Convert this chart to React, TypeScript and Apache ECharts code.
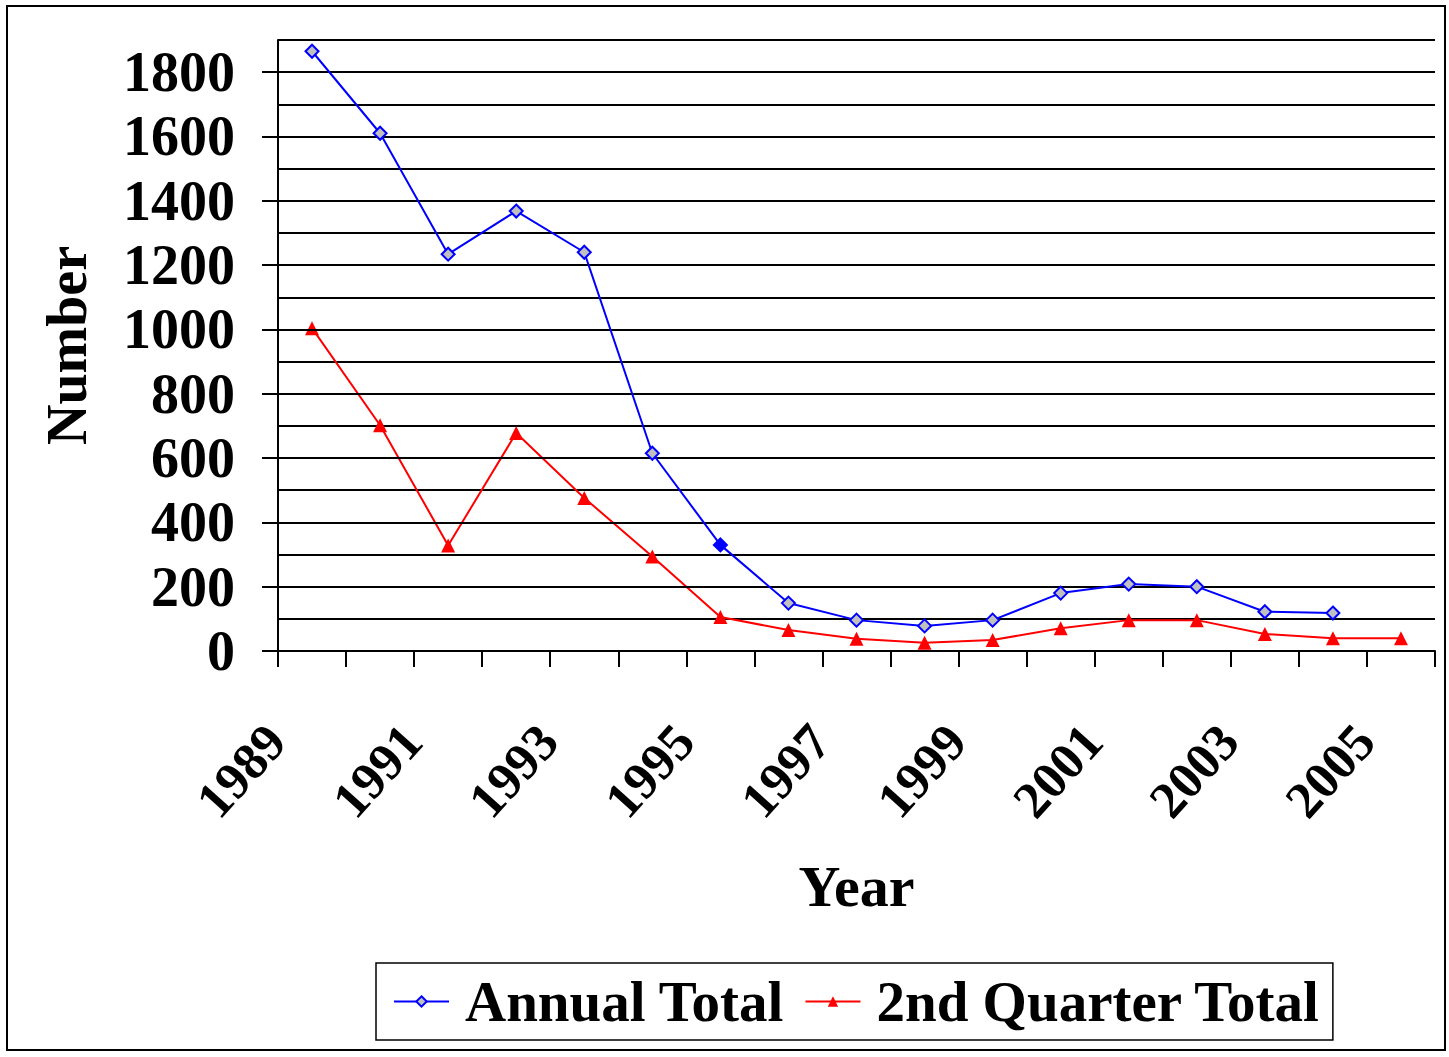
import React, { useEffect, useRef } from "react";
import * as echarts from "echarts";

const years = ["1989", "1990", "1991", "1992", "1993", "1994", "1995", "1996", "1997", "1998", "1999", "2000", "2001", "2002", "2003", "2004", "2005"];
const annualTotal = [1865, 1610, 1234, 1368, 1240, 615, 330, 149, 96, 78, 96, 180, 208, 200, 122, 118, null];
const secondQuarterTotal = [1004, 702, 328, 678, 476, 294, 106, 65, 38, 26, 34, 71, 96, 96, 53, 40, 40];
const yTickValues = [0, 200, 400, 600, 800, 1000, 1200, 1400, 1600, 1800];
const highlightedAnnualIndex = 6;

const FONT = "'Liberation Serif', 'Times New Roman', serif";

export default function App() {
  const ref = useRef<HTMLDivElement>(null);
  useEffect(() => {
    if (!ref.current) return;
    const chart = echarts.init(ref.current, null, { renderer: "svg" });
    const txt = { fontFamily: FONT, fontWeight: "bold" as const, color: "#000" };
    chart.setOption({
      animation: false,
      backgroundColor: "#fff",
      textStyle: txt,
      grid: { left: 278, right: 14, top: 40, bottom: 406, containLabel: false },
      xAxis: {
        type: "category",
        data: years,
        boundaryGap: true,
        name: "Year",
        nameLocation: "middle",
        nameGap: 206,
        nameTextStyle: { ...txt, fontSize: 58 },
        axisLine: { show: true, lineStyle: { color: "#000", width: 2 } },
        axisTick: { show: true, interval: 0, length: 16, lineStyle: { color: "#000", width: 2 } },
        axisLabel: { ...txt, interval: 1, rotate: 48, margin: 41, fontSize: 52, padding: [0, 54, 0, 0] },
        splitLine: { show: false },
      },
      yAxis: [
        {
          type: "value",
          min: 0,
          max: 1900,
          interval: 100,
          name: "Number",
          nameLocation: "middle",
          nameGap: 183,
          nameRotate: 90,
          nameTextStyle: { ...txt, fontSize: 56 },
          axisLine: { show: true, lineStyle: { color: "#000", width: 2 } },
          axisTick: { show: true, length: 16, customValues: yTickValues, lineStyle: { color: "#000", width: 2 } },
          axisLabel: {
            ...txt,
            customValues: yTickValues,
            margin: 43,
            fontSize: 56,
            formatter: (v: number) => String(v),
          },
          splitLine: { show: true, lineStyle: { color: "#000", width: 2 } },
          z: 3,
        },
        {
          type: "value",
          position: "left",
          min: 0,
          max: 1900,
          interval: 100,
          axisLine: { show: false },
          axisTick: { show: false },
          axisLabel: { show: false },
          splitLine: { show: true, lineStyle: { color: "#000", width: 2 } },
        },
      ],
      legend: {
        left: 376,
        top: 963,
        orient: "horizontal",
        itemWidth: 55,
        itemHeight: 13,
        itemGap: 20,
        padding: [10, 12, 10, 17],
        borderColor: "#000",
        borderWidth: 1.5,
        textStyle: { ...txt, fontSize: 57, padding: [0, 0, 0, 11] },
        data: ["Annual Total", "2nd Quarter Total"],
      },
      graphic: [
        {
          type: "rect",
          silent: true,
          z: 100,
          shape: { x: 7, y: 6, width: 1438, height: 1044 },
          style: { fill: "none", stroke: "#000", lineWidth: 2 },
        },
      ],
      series: [
        {
          name: "Annual Total",
          type: "line",
          yAxisIndex: 0,
          data: annualTotal.map((v, i) =>
            i === highlightedAnnualIndex
              ? { value: v, itemStyle: { color: "#0000FF", borderColor: "#0000FF" } }
              : v
          ),
          symbol: "diamond",
          symbolSize: 13,
          showAllSymbol: true,
          itemStyle: { color: "#C0C0C0", borderColor: "#0000FF", borderWidth: 2 },
          lineStyle: { color: "#0000FF", width: 2 },
          z: 3,
        },
        {
          name: "2nd Quarter Total",
          type: "line",
          yAxisIndex: 0,
          data: secondQuarterTotal,
          symbol: "triangle",
          symbolSize: 14,
          showAllSymbol: true,
          itemStyle: { color: "#FF0000" },
          lineStyle: { color: "#FF0000", width: 2 },
          z: 2,
        },
      ],
    });
    return () => chart.dispose();
  }, []);
  return (
    <div
      ref={ref}
      style={{ position: "absolute", left: 0, top: 0, width: 1449, height: 1057 }}
    />
  );
}
